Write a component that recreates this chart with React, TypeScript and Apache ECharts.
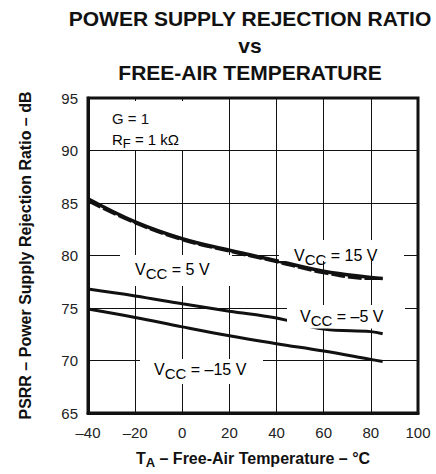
import React, { useEffect, useRef } from 'react';
import * as echarts from 'echarts';

const titleLines = ['POWER SUPPLY REJECTION RATIO', 'vs', 'FREE-AIR TEMPERATURE'];
const temps = [-40, -20, 0, 20, 40, 60, 80, 85];
const vcc5 = [85.4, 83.2, 81.6, 80.5, 79.5, 78.5, 77.9, 77.8];
const vcc15 = [85.2, 83.1, 81.5, 80.4, 79.4, 78.35, 77.8, 77.8];
const vccM5 = [76.8, 76.15, 75.4, 74.7, 74.05, 73.0, 72.75, 72.55];
const vccM15 = [74.9, 74.1, 73.2, 72.35, 71.6, 70.9, 70.1, 69.9];
const xAxisRange = { min: -40, max: 100, interval: 20 };
const yAxisRange = { min: 65, max: 95, interval: 5 };
const xTitleRest = ' – Free-Air Temperature – °C';
const yTitle = 'PSRR – Power Supply Rejection Ratio – dB';

const FONT = '"Liberation Sans", Arial, Helvetica, sans-serif';
const INK = '#111';

const pair = (ys: number[]) => temps.map((t, i) => [t, ys[i]]);

const vccRich = {
  v: { fontSize: 16, fontFamily: FONT, color: INK, padding: [0, 0, 4, 0] },
  s: { fontSize: 15, fontFamily: FONT, color: INK, padding: [4, 0, 0, 0] },
};

const label = (x: number, y: number, sub: string, rest: string, box: number[]) => [
  {
    type: 'rect',
    z: 10,
    shape: { x: box[0], y: box[1], width: box[2], height: box[3] },
    style: { fill: '#fff' },
  },
  {
    type: 'text',
    z: 11,
    x,
    y,
    style: {
      text: `{v|V}{s|${sub}}{v|${rest}}`,
      rich: vccRich,
      verticalAlign: 'middle',
      align: 'left',
    },
  },
];

export default function App() {
  const ref = useRef<HTMLDivElement>(null);
  useEffect(() => {
    if (!ref.current) return;
    const chart = echarts.init(ref.current, undefined, { renderer: 'svg' });
    const lineStyleBase = { color: INK, width: 3 };
    chart.setOption({
      animation: false,
      backgroundColor: '#fff',
      textStyle: { fontFamily: FONT },
      grid: {
        left: 88,
        top: 98,
        width: 330,
        height: 328,
        show: true,
        borderColor: INK,
        borderWidth: 3,
        backgroundColor: 'transparent',
      },
      xAxis: {
        type: 'value',
        ...xAxisRange,
        axisLine: { show: true, onZero: false, lineStyle: { color: INK, width: 3 } },
        axisTick: { show: false },
        splitLine: { show: true, lineStyle: { color: INK, width: 1 } },
        axisLabel: {
          margin: 12,
          fontSize: 15,
          fontFamily: FONT,
          color: '#222',
          formatter: (v: number) => (v < 0 ? '–' + Math.abs(v) : String(v)),
        },
        name: `{t|T}{a|A}{r|${xTitleRest}}`,
        nameLocation: 'middle',
        nameGap: 37,
        nameTextStyle: {
          rich: {
            t: { fontSize: 16, fontWeight: 'bold', fontFamily: FONT, color: INK, padding: [0, 0, 4, 0] },
            a: { fontSize: 13, fontWeight: 'bold', fontFamily: FONT, color: INK, padding: [5, 0, 0, 0] },
            r: { fontSize: 16, fontWeight: 'bold', fontFamily: FONT, color: INK, padding: [0, 0, 4, 0] },
          },
        },
      },
      yAxis: {
        type: 'value',
        ...yAxisRange,
        axisLine: { show: true, onZero: false, lineStyle: { color: INK, width: 3 } },
        axisTick: { show: false },
        splitLine: { show: true, lineStyle: { color: INK, width: 1 } },
        axisLabel: { margin: 10, fontSize: 15, fontFamily: FONT, color: '#222' },
        name: yTitle,
        nameLocation: 'middle',
        nameGap: 55,
        nameTextStyle: { fontSize: 16, fontWeight: 'bold', fontFamily: FONT, color: INK },
      },
      series: [
        {
          name: 'VCC = 5 V',
          type: 'line',
          data: pair(vcc5),
          smooth: 0.4,
          symbol: 'none',
          lineStyle: { ...lineStyleBase, width: 3.5 },
        },
        {
          name: 'VCC = 15 V',
          type: 'line',
          data: pair(vcc15),
          smooth: 0.4,
          symbol: 'none',
          lineStyle: { ...lineStyleBase, width: 3, type: [14, 3] },
        },
        {
          name: 'VCC = -5 V',
          type: 'line',
          data: pair(vccM5),
          smooth: 0.4,
          symbol: 'none',
          lineStyle: lineStyleBase,
        },
        {
          name: 'VCC = -15 V',
          type: 'line',
          data: pair(vccM15),
          smooth: 0.4,
          symbol: 'none',
          lineStyle: lineStyleBase,
        },
      ],
      graphic: [
        {
          type: 'text',
          x: 250,
          y: 5,
          style: {
            text: titleLines.join('\n'),
            font: `bold 21px ${FONT}`,
            fill: INK,
            align: 'center',
            verticalAlign: 'top',
            lineHeight: 27,
          },
        },
        {
          type: 'rect',
          z: 10,
          shape: { x: 91, y: 101, width: 104, height: 49 },
          style: { fill: '#fff' },
        },
        {
          type: 'text',
          z: 11,
          x: 112,
          y: 118,
          style: { text: 'G = 1', font: `15px ${FONT}`, fill: INK, verticalAlign: 'middle' },
        },
        {
          type: 'text',
          z: 11,
          x: 112,
          y: 141,
          style: {
            text: '{v|R}{s|F}{v| = 1 kΩ}',
            verticalAlign: 'middle',
            rich: {
              v: { fontSize: 15, fontFamily: FONT, color: INK, padding: [0, 0, 4, 0] },
              s: { fontSize: 13, fontFamily: FONT, color: INK, padding: [4, 0, 0, 0] },
            },
          },
        },
        ...label(135, 271, 'CC', ' = 5 V', [120, 255, 112, 31]),
        ...label(294, 257, 'CC', ' = 15 V', [279, 240, 125, 21]),
        ...label(300, 318, 'CC', ' = –5 V', [287, 305, 118, 23.5]),
        ...label(154, 371, 'CC', ' = –15 V', [140, 359, 123, 25]),
      ],
    });
    return () => chart.dispose();
  }, []);
  return (
    <div
      ref={ref}
      style={{ position: 'fixed', left: 0, top: 0, width: 436, height: 474 }}
    />
  );
}
